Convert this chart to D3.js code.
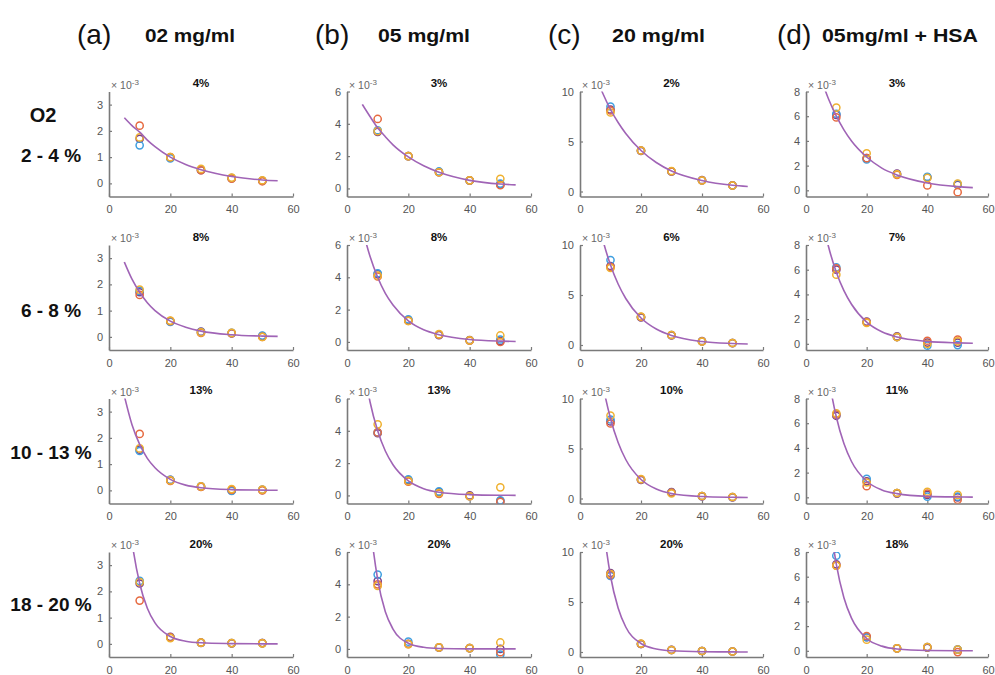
<!DOCTYPE html>
<html>
<head>
<meta charset="utf-8">
<script src="https://cdn.jsdelivr.net/npm/d3@7"></script>
<style>
  body { margin: 0; background: #fff; }
  svg { display: block; font-family: Arial, "Liberation Sans", sans-serif; }
</style>
</head>
<body>
<svg width="995" height="675"></svg>
<script>
// column / row labels
const columnLetters = ['(a)', '(b)', '(c)', '(d)'];
const columnTitles = ['02 mg/ml', '05 mg/ml', '20 mg/ml', '05mg/ml + HSA'];
const rowLabels = ['2 - 4 %', '6 - 8 %', '10 - 13 %', '18 - 20 %'];
const panelTitles = [
  ['4%', '3%', '2%', '3%'],
  ['8%', '8%', '6%', '7%'],
  ['13%', '13%', '10%', '11%'],
  ['20%', '20%', '20%', '18%']
];

// axes (per column)
const xTicks = [0, 20, 40, 60];
const yTicks = [[0, 1, 2, 3], [0, 2, 4, 6], [0, 5, 10], [0, 2, 4, 6, 8]];
const yMax = [3.5, 6, 10, 8];
const yMin = -0.5;

// measured points, x = doses, values x1e-3; panels in row order a1,b1,c1,d1,a2...
const doses = [10, 20, 30, 40, 50];
const blue = [
  [1.45, 0.95, 0.52, 0.2, 0.1], [3.6, 2.0, 1.05, 0.5, 0.3], [8.5, 4.1, 2.0, 1.1, 0.6], [6.2, 2.5, 1.3, 1.1, 0.5],
  [1.75, 0.57, 0.18, 0.15, 0.05], [4.25, 1.4, 0.45, 0.1, 0.15], [8.5, 2.8, 1.0, 0.35, 0.2], [6.2, 1.75, 0.55, -0.15, -0.1],
  [1.5, 0.4, 0.15, -0.02, 0.02], [3.9, 1.0, 0.25, -0.05, -0.3], [7.9, 1.9, 0.6, 0.25, 0.15], [6.7, 1.5, 0.35, 0.05, 0.05],
  [2.4, 0.25, 0.05, 0.03, 0.03], [4.6, 0.45, 0.1, 0.05, -0.35], [7.6, 0.8, 0.2, 0.1, 0.05], [7.7, 1.1, 0.2, 0.3, 0.1]
];
const orange = [
  [2.2, 1.0, 0.5, 0.18, 0.08], [4.3, 2.0, 1.0, 0.5, 0.2], [8.1, 4.1, 2.0, 1.1, 0.6], [5.9, 2.6, 1.25, 0.4, -0.15],
  [1.6, 0.6, 0.15, 0.14, 0.0], [4.05, 1.3, 0.45, 0.08, 0.0], [7.8, 2.8, 1.0, 0.35, 0.2], [6.1, 1.75, 0.55, 0.25, 0.35],
  [2.15, 0.36, 0.13, 0.02, 0.0], [3.9, 0.85, 0.1, -0.05, -0.4], [7.5, 1.9, 0.6, 0.25, 0.15], [6.7, 0.9, 0.35, 0.3, -0.2],
  [1.65, 0.25, 0.05, 0.03, 0.03], [4.0, 0.3, 0.1, 0.05, -0.2], [7.7, 0.8, 0.2, 0.1, 0.05], [6.9, 1.2, 0.2, 0.3, -0.1]
];
const yellow = [
  [1.75, 1.0, 0.55, 0.22, 0.12], [3.55, 2.0, 1.0, 0.5, 0.6], [7.9, 4.1, 2.05, 1.1, 0.6], [6.7, 3.0, 1.3, 1.0, 0.55],
  [1.8, 0.62, 0.17, 0.15, 0.0], [4.1, 1.3, 0.48, 0.1, 0.4], [7.7, 2.85, 1.0, 0.35, 0.2], [5.6, 1.7, 0.55, 0.0, 0.2],
  [1.6, 0.38, 0.15, 0.05, 0.03], [4.4, 0.9, 0.15, -0.05, 0.5], [8.3, 1.95, 0.5, 0.25, 0.15], [6.8, 1.2, 0.35, 0.45, 0.2],
  [2.35, 0.22, 0.05, 0.03, 0.02], [3.9, 0.3, 0.1, 0.05, 0.4], [7.8, 0.85, 0.2, 0.1, 0.05], [6.9, 0.9, 0.2, 0.3, 0.1]
];
const purple = [
  [1.7, 0.98, 0.5, 0.2, 0.1], [3.5, 2.0, 1.0, 0.48, 0.25], [8.2, 4.05, 2.0, 1.15, 0.62], [6.1, 2.6, 1.35, 1.05, 0.45],
  [1.7, 0.6, 0.2, 0.13, 0.03], [4.2, 1.35, 0.42, 0.12, 0.05], [7.9, 2.75, 0.95, 0.4, 0.18], [6.0, 1.8, 0.6, 0.1, 0.1],
  [1.55, 0.4, 0.14, 0.0, 0.02], [3.85, 0.95, 0.2, 0.0, -0.35], [7.7, 1.85, 0.65, 0.2, 0.12], [6.6, 1.3, 0.3, 0.2, 0.0],
  [2.3, 0.27, 0.04, 0.02, 0.03], [4.2, 0.32, 0.08, 0.05, 0.0], [7.9, 0.8, 0.22, 0.1, 0.05], [7.0, 1.1, 0.2, 0.25, 0.1]
];

// fitted curve
const fitX = [5, 7.5, 10, 12.5, 15, 20, 25, 30, 40, 50, 55];
const fitY = [
  [2.5, 2.2, 1.95, 1.65, 1.4, 1.0, 0.72, 0.52, 0.26, 0.13, 0.1],
  [5.2, 4.45, 3.75, 3.2, 2.7, 1.95, 1.4, 1.0, 0.5, 0.27, 0.22],
  [11.7, 9.8, 8.2, 6.9, 5.8, 4.1, 2.9, 2.05, 1.1, 0.62, 0.5],
  [9.0, 7.35, 6.0, 4.9, 4.0, 2.7, 1.8, 1.25, 0.6, 0.3, 0.22],
  [2.85, 2.2, 1.7, 1.3, 1.0, 0.6, 0.37, 0.22, 0.08, 0.03, 0.02],
  [7.0, 5.3, 4.0, 3.0, 2.28, 1.3, 0.75, 0.45, 0.15, 0.05, 0.03],
  [13.8, 10.5, 8.0, 6.1, 4.65, 2.7, 1.6, 0.95, 0.35, 0.15, 0.1],
  [10.5, 7.8, 5.8, 4.3, 3.2, 1.75, 0.97, 0.55, 0.2, 0.08, 0.05],
  [3.6, 2.5, 1.75, 1.22, 0.86, 0.42, 0.2, 0.1, 0.03, 0.01, 0.005],
  [8.5, 5.8, 4.0, 2.75, 1.9, 0.9, 0.42, 0.2, 0.05, 0.01, 0.005],
  [16.4, 11.4, 8.0, 5.6, 3.9, 1.9, 0.95, 0.5, 0.2, 0.12, 0.1],
  [14.5, 9.7, 6.5, 4.35, 2.9, 1.3, 0.6, 0.3, 0.08, 0.03, 0.02],
  [6.6, 3.9, 2.3, 1.36, 0.8, 0.28, 0.1, 0.04, 0.01, 0, 0],
  [15, 8.0, 4.3, 2.3, 1.23, 0.35, 0.1, 0.03, 0, 0, 0],
  [22.8, 13.2, 7.6, 4.4, 2.5, 0.85, 0.3, 0.12, 0.03, 0.01, 0],
  [18.4, 11.4, 7.0, 4.3, 2.65, 1.0, 0.38, 0.15, 0.03, 0.01, 0]
];

// drawing order: later ones on top
const series = [
  {values: purple, color: '#7b3f86'},
  {values: blue, color: '#3f9fe0'},
  {values: orange, color: '#e66a40'},
  {values: yellow, color: '#efb130'}
];

// layout
const colX = [109, 347, 580, 806];
const colW = [184, 184, 183, 182];
const rowBottom = [196.5, 350, 503.5, 657];
const plotH = 105;

const svg = d3.select('svg');
svg.append('rect').attr('width', 995).attr('height', 675).attr('fill', '#fff');

// column headers
const headerLetterX = [77, 315, 548, 777];
const headerTitleX = [145, 378, 612, 822];
const headerTitleW = [90, 92, 93, 156];
columnLetters.forEach((t, i) => {
  svg.append('text').attr('x', headerLetterX[i]).attr('y', 44)
    .attr('font-size', 28).attr('fill', '#111').text(t);
  svg.append('text').attr('x', headerTitleX[i]).attr('y', 42)
    .attr('font-size', 19).attr('font-weight', 'bold').attr('fill', '#111')
    .attr('textLength', headerTitleW[i]).attr('lengthAdjust', 'spacingAndGlyphs')
    .text(columnTitles[i]);
});

// row labels
svg.append('text').attr('x', 43).attr('y', 122).attr('text-anchor', 'middle')
  .attr('font-size', 20).attr('font-weight', 'bold').attr('fill', '#111').text('O2');
const rowLabelY = [162, 317, 459, 611];
rowLabels.forEach((t, i) => {
  svg.append('text').attr('x', 51).attr('y', rowLabelY[i]).attr('text-anchor', 'middle')
    .attr('font-size', 19).attr('font-weight', 'bold').attr('fill', '#111').text(t);
});

const line = d3.line().curve(d3.curveMonotoneX);

for (let r = 0; r < 4; r++) {
  for (let c = 0; c < 4; c++) {
    const p = r * 4 + c;
    const top = rowBottom[r] - plotH;
    const w = colW[c];
    const g = svg.append('g').attr('transform', 'translate(' + colX[c] + ',' + top + ')');

    const x = d3.scaleLinear().domain([0, 60]).range([0, w]);
    const y = d3.scaleLinear().domain([yMin, yMax[c]]).range([plotH, 0]);

    const clipId = 'clip' + p;
    g.append('clipPath').attr('id', clipId)
      .append('rect').attr('x', -5).attr('y', 0).attr('width', w + 10).attr('height', plotH);

    const xAxis = g.append('g')
      .attr('transform', 'translate(0,' + plotH + ')')
      .call(d3.axisBottom(x).tickValues(xTicks).tickFormat(d3.format('d'))
        .tickSizeInner(-3).tickSizeOuter(0).tickPadding(9));
    const yAxis = g.append('g')
      .call(d3.axisLeft(y).tickValues(yTicks[c]).tickFormat(d3.format('d'))
        .tickSizeInner(-3).tickSizeOuter(0).tickPadding(6));

    [xAxis, yAxis].forEach(a => {
      a.select('.domain').attr('stroke', '#7a7a7a').attr('stroke-width', 1.6);
      a.selectAll('.tick line').attr('stroke', '#7a7a7a').attr('stroke-width', 1.2);
      a.selectAll('.tick text').attr('fill', '#555').attr('font-size', 11)
        .attr('font-family', 'Arial, "Liberation Sans", sans-serif');
    });

    // x10^-3 label
    const exp = g.append('text').attr('x', 2).attr('y', -3)
      .attr('font-size', 10.5).attr('fill', '#666');
    exp.append('tspan').text('\u00d7 10');
    exp.append('tspan').attr('dy', -4).attr('font-size', 8).text('-3');

    // panel title
    g.append('text').attr('x', w / 2).attr('y', -4.5).attr('text-anchor', 'middle')
      .attr('font-size', 11.5).attr('font-weight', 'bold').attr('fill', '#111')
      .text(panelTitles[r][c]);

    const plot = g.append('g').attr('clip-path', 'url(#' + clipId + ')');

    series.forEach(s => {
      plot.selectAll(null)
        .data(doses.map((d, i) => [d, s.values[p][i]]))
        .enter()
        .append('circle')
        .attr('cx', d => x(d[0]))
        .attr('cy', d => y(d[1]))
        .attr('r', 3.6)
        .attr('fill', 'none')
        .attr('stroke', s.color)
        .attr('stroke-width', 1.5);
    });

    plot.append('path')
      .datum(fitX.map((d, i) => [x(d), y(fitY[p][i])]))
      .attr('d', line)
      .attr('fill', 'none')
      .attr('stroke', '#a064b6')
      .attr('stroke-width', 1.6);
  }
}
</script>
</body>
</html>
